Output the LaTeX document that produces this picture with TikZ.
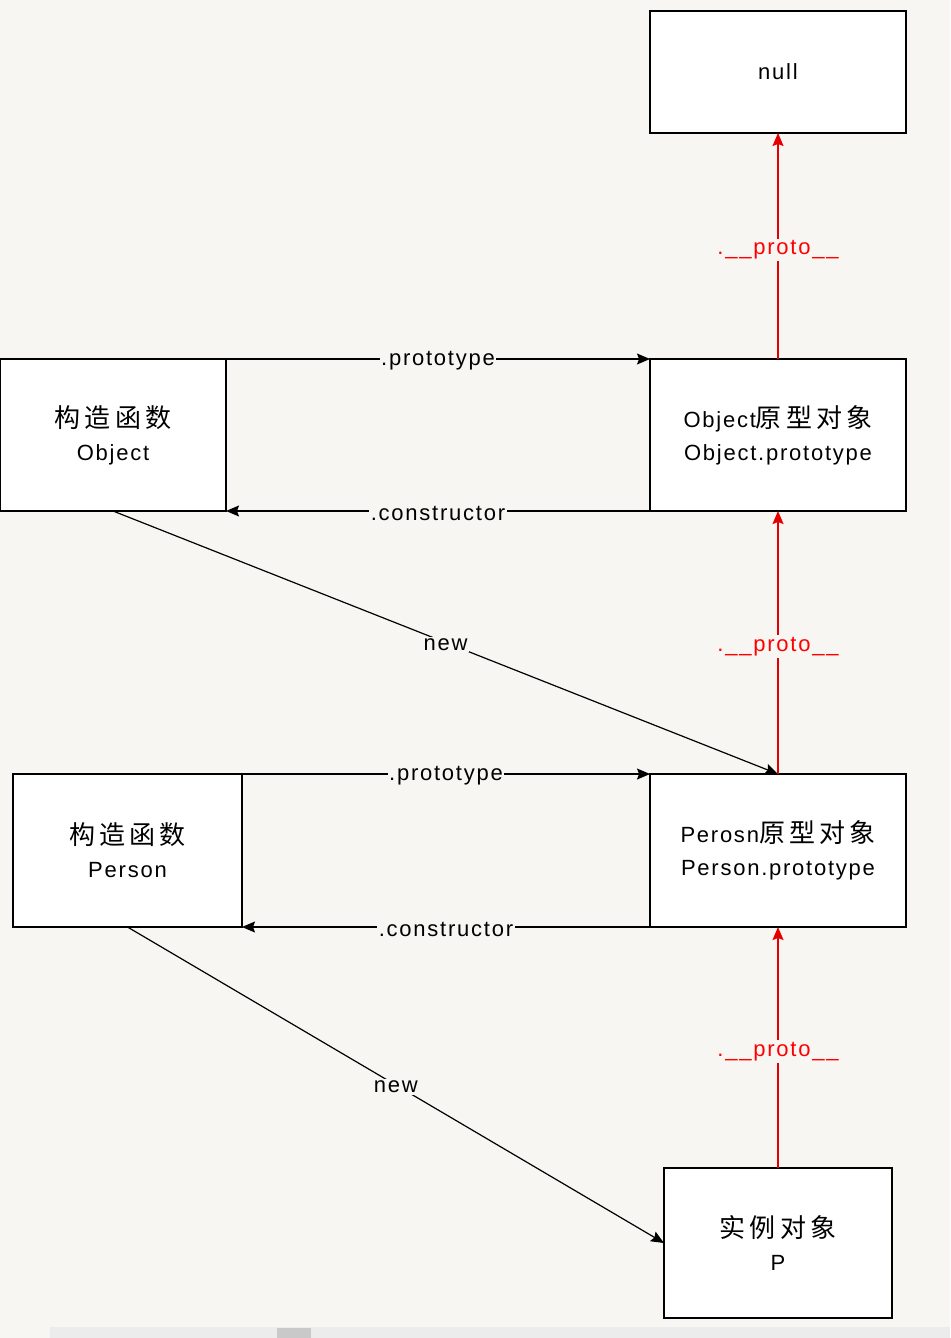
\documentclass[tikz,border=0pt]{standalone}
\usepackage{fontspec}
\setmainfont{Liberation Sans}[LetterSpace=8]
\newfontfamily\cjkfont{Noto Sans CJK SC}[LetterSpace=16]
\usetikzlibrary{arrows.meta}
\definecolor{bgc}{RGB}{247,246,242}
\definecolor{protored}{RGB}{228,0,0}
\definecolor{striplight}{RGB}{236,236,236}
\definecolor{stripdark}{RGB}{201,201,201}
\newcommand\myboxfont{\fontsize{22}{33}\selectfont}
\newcommand\zh[1]{{\cjkfont\fontsize{26}{33}\selectfont #1}}
\tikzset{
  box/.style={draw, line width=1.6pt, fill=white, rectangle, inner sep=0pt, outer sep=0pt, align=center, font=\myboxfont},
  conn/.style={line width=1.2pt, -{Stealth[length=13pt,width=11pt,inset=2pt]}},
  redconn/.style={line width=1.6pt, draw=protored, -{Stealth[length=13pt,width=11pt,inset=2pt]}},
  lab/.style={fill=bgc, inner sep=1.5pt, yshift=-2pt, font=\fontsize{22}{26}\selectfont, text=black},
  redlab/.style={fill=bgc, inner sep=2pt, yshift=-4pt, font=\fontsize{22}{26}\selectfont, text=red},
}
\begin{document}
\begin{tikzpicture}[x=1pt,y=-1pt]
\fill[bgc] (0,0) rectangle (950,1338);
\useasboundingbox (0,0) rectangle (950,1338);
% bottom strip (screenshot scrollbar)
\fill[striplight] (50,1327) rectangle (950,1338);
\fill[stripdark] (277,1328) rectangle (311,1338);

\node[box, minimum width=256pt, minimum height=122pt] (null) at (778,72) {null};
\node[box, minimum width=226pt, minimum height=152pt] (objc) at (113,435) {\zh{构造函数}\\Object};
\node[box, minimum width=256pt, minimum height=152pt] (objp) at (778,435) {Object\zh{原型对象}\\Object.prototype};
\node[box, minimum width=229pt, minimum height=153pt] (perc) at (127.5,850.5) {\zh{构造函数}\\Person};
\node[box, minimum width=256pt, minimum height=153pt] (perp) at (778,850.5) {Perosn\zh{原型对象}\\Person.prototype};
\node[box, minimum width=228pt, minimum height=150pt] (inst) at (778,1243) {\zh{实例对象}\\P};

% Object constructor <-> prototype
\draw[conn] (objc.north east) -- node[lab] (l1) {.prototype} (objp.north west);
\draw[conn] (objp.south west) -- node[lab] (l2) {.constructor} (objc.south east);
\draw[conn] (objc.south) -- node[lab] (l3) {new} (perp.north);

% Person constructor <-> prototype
\draw[conn] (perc.north east) -- node[lab] (l4) {.prototype} (perp.north west);
\draw[conn] (perp.south west) -- node[lab] (l5) {.constructor} (perc.south east);
\draw[conn] (perc.south) -- node[lab] (l6) {new} (inst.west);

% proto chain
\draw[redconn] (inst.north) -- node[redlab] (r1) {.\_\_proto\_\_} (perp.south);
\draw[redconn] (perp.north) -- node[redlab] (r2) {.\_\_proto\_\_} (objp.south);
\draw[redconn] (objp.north) -- node[redlab] (r3) {.\_\_proto\_\_} (null.south);
\end{tikzpicture}
\end{document}
